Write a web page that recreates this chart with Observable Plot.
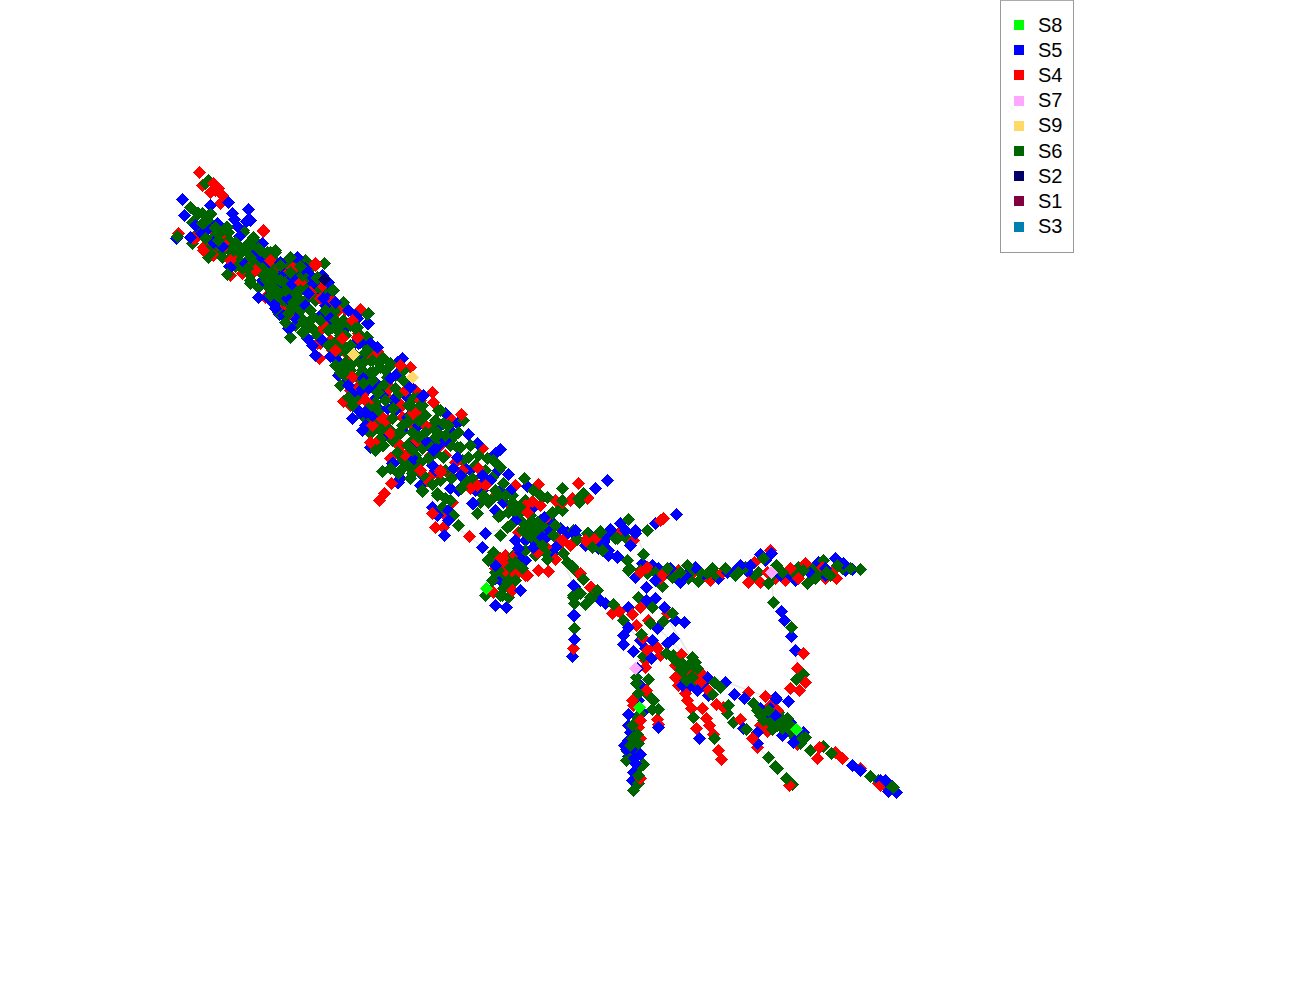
<!DOCTYPE html>
<html><head><meta charset="utf-8">
<script src="https://cdn.jsdelivr.net/npm/d3@7"></script>
<script src="https://cdn.jsdelivr.net/npm/@observablehq/plot@0.6"></script>
<style>
html,body{margin:0;padding:0;background:#fff}
#wrap{position:relative;width:1300px;height:1000px}
#legend{position:absolute;left:1000px;top:0;width:72px;height:239.5px;border:1px solid #999;border-top:1px solid #aaa;background:#fff;font:20px "Liberation Sans",Arial,sans-serif;color:#000;padding-top:11.5px;box-sizing:content-box}
#legend div{height:25.2px;display:flex;align-items:center;position:relative}
#legend i{position:absolute;left:13px;width:10px;height:10px;display:block}
#legend span{position:absolute;left:37px}
</style></head><body><div id="wrap"><div id="chart"></div><div id="legend"></div></div>
<script>
const names=["S8","S5","S4","S7","S9","S6","S2","S1","S3"];
const colors=["#00ff00","#0000ff","#ff0000","#ffa6ff","#ffd966","#006400","#000066","#800040","#0080b0"];
const s4=[[199,172],[202,185],[213,183],[218,188],[210,192],[222,195],[220,203],[215,190],[178,233],[263,230],[193,238],[203,250],[242,273],[230,275],[293,268],[315,265],[360,309],[267,295],[319,358],[377,351],[410,367],[432,392],[433,402],[343,401],[390,387],[367,402],[380,417],[413,413],[400,407],[328,322],[345,309],[320,298],[317,343],[358,333],[352,377],[335,350],[280,267],[273,260],[287,315],
[461,414],[482,448],[417,413],[388,420],[370,442],[390,458],[437,473],[427,480],[391,483],[384,493],[379,500],[452,502],[435,527],[443,527],[469,536],[477,485],[478,468],[515,485],[538,484],[532,501],[578,483],[587,498],[570,500],[562,502],[527,512],[518,532],[500,558],[503,563],[516,573],[527,575],[538,570],[548,571],[493,592],[560,543],[555,559],[595,538],[580,573],[590,587],[617,610],[633,540],[440,470],[403,455],[415,442],[375,443],[432,513],[443,513],
[663,518],[660,520],[633,540],[618,533],[593,540],[588,543],[562,540],[579,574],[591,587],[647,567],[663,573],[678,570],[710,580],[722,572],[748,582],[754,562],[770,550],[760,582],[767,572],[785,580],[805,563],[798,578],[822,567],[833,570],[836,578],[803,653],[573,648],[619,611],[612,613],[632,614],[636,625],[640,607],[643,638],[655,645],[647,650],[667,613],[648,620],
[797,668],[805,682],[790,688],[799,690],[657,648],[660,655],[645,667],[681,654],[700,672],[675,677],[678,685],[685,693],[687,700],[691,708],[702,708],[706,688],[706,718],[709,725],[696,728],[713,734],[718,750],[721,759],[716,704],[723,707],[740,719],[752,738],[757,747],[748,692],[765,696],[777,710],[767,731],[817,758],[835,752],[842,758],[860,768],[878,783],[789,785],[819,747],[797,744],[646,690],[657,719],[658,724],[638,727],[640,738],[640,778],[633,705]];
const s4core=[[263,231],[203,247],[213,255],[230,260],[280,270],[273,268],[292,268],[270,260],[212,230],[222,233],[195,238],[315,263],[293,268],[277,263],[345,309],[377,352],[328,318],[315,298],[320,343],[357,337],[332,350],[265,297],[350,345],[400,365],[415,412],[423,413],[380,415],[385,420],[395,440],[350,377],[357,387],[390,433],[450,418],[395,442],[405,455],[440,472],[433,473],[426,480],[440,445],[413,412],[402,417],[477,487],[555,500],[537,552],[547,548],[560,542],[590,543],[498,557],[503,565],[515,575],[525,575],[572,498],[587,497],[557,538]];
const s4fill=[[225,245],[235,252],[218,250],[208,240],[250,265],[255,270],[272,280],[285,275],[300,282],[310,292],[296,298],[280,308],[322,285],[332,300],[338,310],[322,328],[352,320],[342,338],[330,340],[348,355],[370,355],[350,390],[362,395],[385,395],[398,402],[405,390],[415,390],[420,400],[372,425],[350,405],[358,400],[400,445],[412,425],[425,425],[430,455],[445,455],[455,462],[420,470],[450,475],[462,470],[470,488],[485,485],[495,495],[510,505],[525,505],[540,505],[550,520],[548,535],[585,540],[570,545],[505,555],[515,555],[505,570],[512,590],[495,568],[600,540],[640,572],[660,578],[690,575],[735,575],[775,578],[790,568],[815,575],[825,578],[640,720],[632,700],[645,660],[675,665],[685,670],[700,682],[770,705],[785,725],[760,725],[880,785]];
const s5=[[182,199],[184,215],[210,205],[228,202],[232,213],[248,209],[234,219],[246,221],[250,220],[176,238],[201,233],[190,237],[212,242],[217,223],[239,236],[262,243],[229,266],[258,259],[297,257],[303,268],[287,267],[245,263],[258,297],[273,303],[279,314],[288,328],[307,338],[315,355],[330,356],[338,361],[325,305],[335,302],[323,313],[325,288],[328,282],[287,298],[267,286],[277,287],[313,283],[308,293],[355,315],[367,323],[360,342],[377,347],[402,358],[345,382],[363,378],[352,393],[373,400],[360,412],[370,413],[387,408],[407,417],[423,395],[397,373],[410,386],
[468,434],[477,443],[500,449],[508,474],[527,486],[450,488],[458,490],[473,503],[432,507],[437,515],[448,510],[448,520],[444,535],[485,533],[482,547],[515,540],[397,482],[392,463],[372,415],[365,412],[383,435],[413,459],[422,475],[453,468],[465,468],[482,490],[503,502],[482,475],[532,508],[544,517],[553,523],[560,528],[567,533],[607,480],[595,488],[573,585],[600,600],[605,603],[573,615],[495,605],[506,607],[520,552],[520,560],[533,547],[552,553],[608,550],[617,556],[635,530],[620,523],[635,577],[610,530],[542,537],[530,537],
[676,514],[610,529],[635,533],[655,523],[603,541],[607,553],[617,557],[642,563],[652,565],[658,568],[655,580],[680,582],[695,567],[727,572],[740,565],[748,572],[760,554],[771,553],[780,575],[795,580],[818,562],[835,558],[843,563],[852,569],[825,575],[646,587],[646,600],[655,598],[664,607],[675,620],[684,622],[628,607],[574,586],[574,615],[574,639],[572,656],[781,611],[784,620],[791,636],[795,650],[623,644],[633,651],[673,638],[667,643],[657,628],[623,635],[628,627],[640,640],[567,532],[573,533],
[651,658],[707,677],[702,683],[682,685],[697,690],[708,695],[725,682],[734,694],[744,698],[776,699],[788,701],[757,732],[743,728],[757,743],[760,708],[767,717],[782,735],[803,732],[793,742],[852,765],[860,770],[896,792],[888,791],[880,780],[699,738],[640,685],[638,700],[628,714],[658,727],[642,712],[630,732],[628,740],[626,749],[628,756],[640,754],[633,772],[635,763],[637,668],[775,697]];
const s5core=[[258,259],[230,267],[283,268],[297,262],[240,248],[213,242],[202,233],[247,220],[292,277],[290,285],[298,268],[303,268],[283,315],[290,327],[357,318],[368,323],[358,343],[323,298],[320,315],[267,297],[275,303],[359,411],[368,422],[365,425],[370,447],[422,396],[445,413],[397,362],[360,390],[410,387],[457,423],[410,447],[430,443],[393,400],[375,382],[393,463],[398,482],[432,465],[383,437],[495,453],[433,450],[445,440],[472,503],[482,483],[457,457],[518,548],[518,555],[557,545],[545,538],[495,565],[505,565],[515,568],[598,548],[608,555],[575,535],[603,542],[608,535]];
const s5fill=[[195,225],[218,232],[208,228],[237,226],[222,246],[240,262],[255,252],[268,262],[280,262],[290,262],[305,268],[310,275],[322,275],[295,278],[280,275],[272,290],[262,280],[285,305],[295,318],[275,308],[305,305],[318,295],[328,295],[330,318],[348,310],[345,328],[355,342],[322,340],[312,345],[340,350],[362,355],[370,343],[348,385],[338,375],[368,388],[382,395],[390,378],[378,408],[352,418],[362,430],[395,410],[405,395],[402,430],[418,425],[425,440],[440,425],[450,430],[438,445],[410,462],[400,478],[420,485],[435,470],[460,475],[470,470],[475,490],[490,480],[498,470],[500,490],[510,490],[495,510],[515,520],[525,540],[535,530],[550,530],[575,530],[585,545],[590,535],[625,530],[630,545],[650,570],[665,572],[670,568],[685,575],[705,575],[718,578],[735,570],[750,565],[765,560],[790,575],[810,573],[825,568],[845,570],[628,725],[632,748],[634,758],[624,745],[632,780],[645,648],[652,640],[685,680],[690,685],[770,708],[775,715],[790,722],[798,735],[892,786],[885,780],[510,575],[495,578],[525,560],[520,590],[500,580]];
const s6=[[208,180],[205,183],[190,207],[197,213],[202,213],[210,213],[192,222],[202,223],[210,223],[215,228],[226,227],[177,236],[192,243],[207,250],[210,253],[218,240],[227,238],[227,248],[222,257],[233,250],[243,230],[253,237],[248,243],[260,250],[267,252],[275,250],[250,257],[227,274],[242,268],[250,275],[250,283],[263,275],[260,285],[275,278],[270,288],[290,257],[305,260],[324,263],[302,275],[317,278],[333,290],[285,290],[300,290],[277,295],[307,298],[290,305],[297,307],[285,322],[300,317],[290,337],[302,332],[310,320],[317,335],[330,345],[340,342],[337,330],[343,320],[333,310],[343,302],[367,314],[357,327],[366,337],[347,350],
[365,352],[360,363],[342,371],[372,360],[382,358],[373,372],[390,363],[387,377],[403,380],[357,377],[377,392],[397,395],[348,397],[355,397],[368,408],[378,410],[410,405],[417,398],[420,405],[392,408],
[382,471],[368,423],[370,433],[408,405],[400,433],[418,435],[437,435],[427,443],[398,473],[413,468],[422,491],[437,493],[451,478],[460,488],[463,477],[438,438],[443,457],[457,447],[468,457],[493,460],[500,467],[492,477],[503,483],[524,478],[533,490],[562,488],[542,497],[547,497],[578,498],[583,493],[560,508],[552,512],[488,500],[498,516],[508,512],[517,515],[512,502],[520,505],[477,513],[453,515],[458,525],[442,507],[507,527],[532,525],[537,522],[527,528],[545,528],[535,540],[542,545],[577,539],[587,533],[600,531],[628,519],[625,537],[617,538],[592,547],[602,550],[563,553],[547,559],[493,552],[488,560],[513,555],[510,563],[498,570],[492,580],[510,585],[507,582],[485,595],[502,595],[508,597],[568,563],[573,568],[583,579],[573,595],[578,593],[574,603],[585,604],[596,591],[590,597],[613,604],[627,560],[628,570],
[647,530],[615,538],[600,532],[588,533],[573,530],[575,540],[643,554],[629,568],[647,573],[662,586],[667,568],[672,577],[687,565],[688,578],[698,581],[700,572],[707,573],[712,568],[738,572],[755,577],[763,558],[776,565],[768,583],[788,571],[793,572],[803,570],[807,583],[813,568],[823,560],[830,575],[837,565],[842,568],[860,569],[773,602],[791,627],[567,562],[572,566],[575,570],[591,598],[574,628],[638,597],[652,607],[672,613],[663,621],[650,623],[623,620],[641,634],[562,510],[579,502],[643,656],[666,653],[673,655],[692,657],
[803,674],[796,679],[636,677],[636,683],[648,679],[638,693],[648,695],[653,700],[652,709],[658,709],[637,717],[632,725],[637,734],[638,743],[627,751],[634,762],[643,764],[638,775],[634,782],[638,783],[633,790],[673,658],[695,662],[682,663],[677,662],[683,670],[684,677],[692,677],[695,680],[693,717],[712,694],[714,682],[720,687],[728,705],[727,713],[733,722],[714,738],[746,729],[768,757],[775,766],[777,768],[786,778],[792,784],[810,750],[823,746],[831,753],[870,776],[883,783],[888,783],[893,787],[753,703],[757,710],[763,720],[768,710],[773,712],[780,717],[787,718],[777,725],[772,729],[790,732],[802,738],[805,737],[800,743],[783,723]];
const s6core=[[198,213],[210,214],[193,222],[203,223],[215,227],[227,227],[208,257],[220,253],[232,247],[240,253],[243,232],[253,237],[250,245],[258,248],[270,252],[275,252],[252,273],[250,280],[258,287],[277,263],[268,287],[285,290],[277,297],[270,263],[265,275],[280,265],[303,277],[270,285],[280,280],[285,290],[298,290],[315,288],[275,295],[293,302],[283,305],[300,310],[288,313],[310,310],[285,322],[303,320],[313,317],[303,332],[335,310],[332,327],[342,323],[355,328],[337,340],[347,352],[328,345],[367,350],[352,362],[367,337],[368,313],[332,290],[305,260],[382,357],[363,362],[317,277],[340,335],
[342,348],[340,372],[352,363],[370,360],[380,367],[390,365],[370,372],[387,377],[357,377],[363,383],[378,392],[397,395],[355,395],[368,408],[393,408],[378,427],[370,433],[398,433],[407,422],[413,398],[422,405],[418,420],[438,410],[430,427],[443,423],[450,440],[418,437],[410,442],[382,445],[435,437],[445,435],
[392,408],[408,405],[420,405],[440,410],[380,430],[390,430],[400,433],[420,420],[437,432],[448,425],[463,420],[418,437],[427,443],[407,445],[383,445],[397,452],[415,455],[400,470],[412,473],[407,465],[443,457],[460,447],[468,457],[487,458],[495,462],[492,477],[451,478],[461,488],[465,480],[422,490],[437,495],[483,495],[490,500],[442,507],[452,437],
[500,515],[507,527],[527,525],[533,522],[532,530],[540,542],[547,559],[563,553],[552,513],[560,508],[513,505],[520,507],[493,552],[488,559],[498,570],[510,567],[522,568],[492,580],[508,580],[510,585],[500,595],[575,540],[587,533],[602,550],[573,597],[580,593],[597,590],[488,502],[498,495],[512,495],[547,497],[562,500],[540,495]];
const s6fill=[[205,220],[214,236],[220,232],[205,238],[198,232],[213,246],[228,232],[235,242],[237,258],[229,258],[245,250],[238,246],[256,242],[262,257],[255,264],[247,268],[235,266],
[268,268],[262,268],[272,272],[285,262],[295,268],[290,272],[300,266],[310,268],[284,282],[276,290],[266,280],[292,295],[300,300],[282,300],[270,295],[308,285],[322,290],[315,300],[325,310],[295,312],[278,312],[305,325],[312,328],[295,325],[320,320],[328,330],
[335,320],[345,335],[350,325],[360,335],[350,345],[338,352],[355,355],[345,362],[335,365],[350,370],[365,345],[378,362],[385,370],[362,370],[345,375],[340,385],[372,380],[360,385],[383,385],[395,388],[385,400],[375,402],[395,375],[403,370],[352,405],
[362,415],[375,418],[385,425],[392,418],[380,438],[392,440],[375,450],[402,425],[410,415],[425,415],[412,432],[425,432],[435,420],[430,445],[422,448],[412,450],[402,460],[390,468],[420,462],[428,458],[435,452],[410,478],[423,475],[432,484],[445,470],[440,480],[450,445],[458,432],[462,460],[470,445],[475,465],[478,455],[485,470],[472,478],
[450,500],[445,498],[480,502],[495,490],[505,495],[515,510],[525,500],[530,515],[520,520],[510,525],[500,535],[538,532],[528,535],[522,530],[540,520],[547,535],[553,535],[555,525],[545,552],[535,555],[525,550],[515,562],[505,575],[495,572],[503,588],[515,580],[490,590],
[640,570],[655,572],[680,572],[692,570],[715,574],[725,568],[735,575],[745,567],[758,572],[772,575],[782,572],[798,567],[820,570],[815,578],[826,572],[850,568],[640,713],[632,738],[630,745],[636,755],[638,768],[626,760],[688,665],[690,672],[680,670],[697,668],[686,680],[778,712],[765,715],[775,720],[782,728],[795,738],[790,725],[770,722],[760,715],[885,786],[878,780]];
const s8=[[486,588],[796,729],[639,707]];
const s7=[[771,572],[635,668]];
const s9=[[353,354],[412,377]];
const s2=[[324,279]];
const s1=[];
const s3=[];
const edges=[[771,580,773,602],[773,602,791,627],[795,650,797,668],[797,668,790,688],[482,547,500,558],[469,536,482,547],[437,515,469,536],[432,513,432,490],[507,527,485,533],[600,538,607,553],[635,533,647,560],[562,560,574,586],[574,586,572,656],[603,600,640,640],[650,620,690,660],[665,615,700,672],[700,672,765,696],[640,650,636,668],[757,747,768,757],[840,755,865,772]];
const layer={S4:0,S5:.3,S6:.6};
const rows=[];
[["S4",s4.concat(s4core,s4fill)],["S5",s5.concat(s5core,s5fill)],["S6",s6.concat(s6core,s6fill)]].forEach(([n,a])=>a.forEach((p,i)=>rows.push({x:p[0],y:p[1],s:n,k:(i%4)+layer[n]})));
rows.sort((a,b)=>a.k-b.k);
[["S8",s8],["S7",s7],["S9",s9],["S2",s2],["S1",s1],["S3",s3]].forEach(([n,a])=>a.forEach(p=>rows.push({x:p[0],y:p[1],s:n})));
const chart=Plot.plot({width:1300,height:1000,margin:0,
 x:{domain:[0,1300],range:[0,1300],axis:null},
 y:{domain:[0,1000],range:[0,1000],axis:null},
 color:{domain:names,range:colors},
 marks:[
  Plot.link(edges,{x1:d=>d[0],y1:d=>d[1],x2:d=>d[2],y2:d=>d[3],stroke:"#e6e6e6",strokeWidth:1.5}),
  Plot.dot(rows,{x:"x",y:"y",fill:"s",symbol:"diamond2",r:6,shapeRendering:"crispEdges"})
 ]});
document.getElementById("chart").appendChild(chart);
chart.style.display="block";
const lg=document.getElementById("legend");
names.forEach((n,i)=>{const d=document.createElement("div");d.innerHTML=`<i style="background:${colors[i]}"></i><span>${n}</span>`;lg.appendChild(d);});
</script></body></html>
